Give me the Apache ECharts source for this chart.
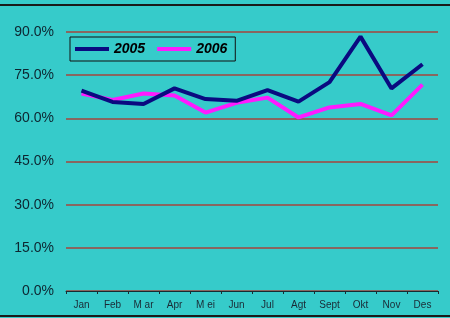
<!DOCTYPE html>
<html>
<head>
<meta charset="utf-8">
<script src="https://cdn.jsdelivr.net/npm/echarts@6/dist/echarts.min.js"></script>
<style>
    html, body { margin: 0; padding: 0; background: #36cbca; }
    #frame { position: absolute; left: -2px; top: 4px; width: 452px; height: 309px; border-top: 2px solid #1a1a1a; border-bottom: 2px solid #1a1a1a; }
    #chart { position: absolute; left: 0; top: 0; width: 450px; height: 318px; }
</style>
</head>
<body>
<div id="frame"></div>
<div id="chart"></div>
<script>
// bulan
var months = ['Jan', 'Feb', 'M ar', 'Apr', 'M ei', 'Jun', 'Jul', 'Agt', 'Sept', 'Okt', 'Nov', 'Des'];
// nilai per tahun (%)
var data2005 = [69.6, 65.7, 65.0, 70.4, 66.7, 66.1, 69.8, 65.8, 72.6, 88.4, 70.4, 78.8];
var data2006 = [68.6, 66.4, 68.6, 67.9, 62.0, 65.4, 67.2, 60.3, 63.8, 65.0, 61.0, 71.7];
var yTicks = [0, 15, 30, 45, 60, 75, 90];

var myChart = echarts.init(document.getElementById('chart'));

var option = {
    animation: false,
    grid: {
        left: 66,
        right: 12,
        top: 32,
        bottom: 27
    },
    legend: {
        left: 70,
        top: 37,
        itemGap: 12,
        padding: [5, 8, 5, 5],
        borderColor: '#111',
        borderWidth: 1,
        itemWidth: 34,
        itemHeight: 4,
        icon: 'rect',
        textStyle: {
            fontFamily: 'Liberation Sans',
            fontSize: 14,
            fontWeight: 'bold',
            fontStyle: 'italic',
            color: '#000'
        },
        data: ['2005', '2006']
    },
    xAxis: {
        type: 'category',
        data: months,
        boundaryGap: true,
        axisLine: {
            lineStyle: {color: '#1a2a30', width: 1}
        },
        axisTick: {
            show: true,
            length: 3,
            lineStyle: {color: '#1a2a30'}
        },
        axisLabel: {
            fontFamily: 'Liberation Sans',
            fontSize: 10,
            color: '#1a2a35',
            margin: 9
        }
    },
    yAxis: {
        type: 'value',
        min: yTicks[0],
        max: yTicks[yTicks.length - 1],
        interval: 15,
        axisLine: {show: false},
        axisTick: {show: false},
        axisLabel: {
            fontFamily: 'Liberation Sans',
            fontSize: 14,
            color: '#0d2530',
            margin: 12,
            formatter: function (v) {
                return v.toFixed(1) + '%';
            }
        },
        splitLine: {
            show: true,
            lineStyle: {color: '#a5463c', width: 1.5}
        }
    },
    series: [
        {
            name: '2005',
            type: 'line',
            data: data2005,
            symbol: 'none',
            lineStyle: {color: '#0a0a80', width: 4},
            itemStyle: {color: '#0a0a80'},
            z: 3
        },
        {
            name: '2006',
            type: 'line',
            data: data2006,
            symbol: 'none',
            lineStyle: {color: '#ff1aff', width: 4},
            itemStyle: {color: '#ff1aff'},
            z: 2
        }
    ]
};

myChart.setOption(option);
</script>
</body>
</html>
